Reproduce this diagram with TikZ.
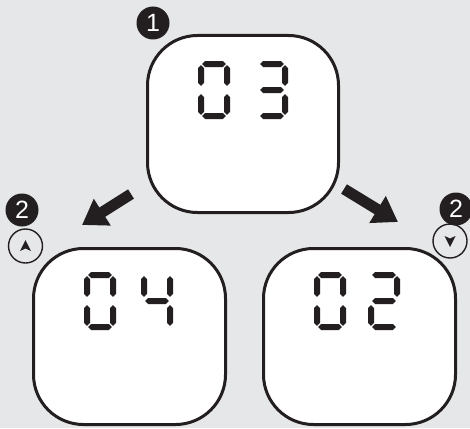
\documentclass[tikz,border=0pt]{standalone}
\usepackage{fontspec}
\setmainfont{Liberation Sans}
\usetikzlibrary{arrows.meta}
\definecolor{bg}{HTML}{E6E7E8}
\definecolor{ink}{HTML}{231F20}
\tikzset{
  seg/.style={fill=ink},
  lcdbox/.style={draw=ink, fill=white, line width=3pt, rounded corners=50pt, inner sep=0pt},
  badge/.style={circle, fill=ink, text=white, minimum size=33pt, inner sep=0pt, font=\fontsize{25}{25}\selectfont},
  keyring/.style={circle, draw=ink, line width=1.4pt, minimum size=34pt, inner sep=0pt},
  bigarrow/.style={draw=ink, line width=11pt, -{Triangle[length=24pt,width=30pt]}},
}
% seven-segment pieces (local coordinates, digit 32 x 58)
\newcommand\HS[1]{\fill[seg] (4.2,#1) -- (7.2,#1-3) -- (24.8,#1-3) -- (27.8,#1) -- (24.8,#1+3) -- (7.2,#1+3) -- cycle;}
\newcommand\VS[3]{\fill[seg] (#1,#2+4.2) -- (#1+3,#2+7.2) -- (#1+3,#3-7.2) -- (#1,#3-4.2) -- (#1-3,#3-7.2) -- (#1-3,#2+7.2) -- cycle;}
\newcommand\segA{\HS{3}}
\newcommand\segG{\HS{29}}
\newcommand\segD{\HS{55}}
\newcommand\segF{\VS{3}{0}{29}}
\newcommand\segE{\VS{3}{29}{58}}
\newcommand\segB{\VS{29}{0}{29}}
\newcommand\segC{\VS{29}{29}{58}}
\newcommand\dZero[1]{\begin{scope}[shift={#1}]\segA\segB\segC\segD\segE\segF\end{scope}}
\newcommand\dTwo[1]{\begin{scope}[shift={#1}]\segA\segB\segG\segE\segD\end{scope}}
\newcommand\dThree[1]{\begin{scope}[shift={#1}]\segA\segB\segG\segC\segD\end{scope}}
\newcommand\dFour[1]{\begin{scope}[shift={#1}]\segF\segG\segB\segC\end{scope}}
\begin{document}
\begin{tikzpicture}[x=1pt,y=-1pt]
\fill[bg] (0,0) rectangle (470,428);
\useasboundingbox (0,0) rectangle (470,428);
% boxes
\node[lcdbox, minimum width=191pt, minimum height=177pt] (top) at (243,124) {};
\node[lcdbox, minimum width=192pt, minimum height=176pt] (left) at (129.5,336.5) {};
\node[lcdbox, minimum width=192pt, minimum height=176pt] (right) at (359.5,336.5) {};
% digits
\dZero{(198,61)}
\dThree{(256,61)}
\dZero{(84,272)}
\dFour{(141,272)}
\dZero{(314,272)}
\dTwo{(368,272)}
% badges
\node[badge] (b1) at (153,23) {1};
\node[badge] (b2l) at (22,210) {2};
\node[badge] (b2r) at (456,209) {2};
% key symbols
\node[keyring] (up) at (25.5,246) {};
\node[keyring] (down) at (450,241) {};
\fill[ink] ([yshift=6pt]up.center) -- ([xshift=5.5pt,yshift=-5pt]up.center) -- ([yshift=-2.5pt]up.center) -- ([xshift=-5.5pt,yshift=-5pt]up.center) -- cycle;
\fill[ink] ([yshift=-6pt]down.center) -- ([xshift=5.5pt,yshift=5pt]down.center) -- ([yshift=2.5pt]down.center) -- ([xshift=-5.5pt,yshift=5pt]down.center) -- cycle;
% arrows
\coordinate (la1) at (131,194);
\coordinate (la2) at (82,225);
\coordinate (ra1) at (344,189);
\coordinate (ra2) at (398,222);
\draw[bigarrow] (la1) -- (la2);
\draw[bigarrow] (ra1) -- (ra2);
\end{tikzpicture}
\end{document}
